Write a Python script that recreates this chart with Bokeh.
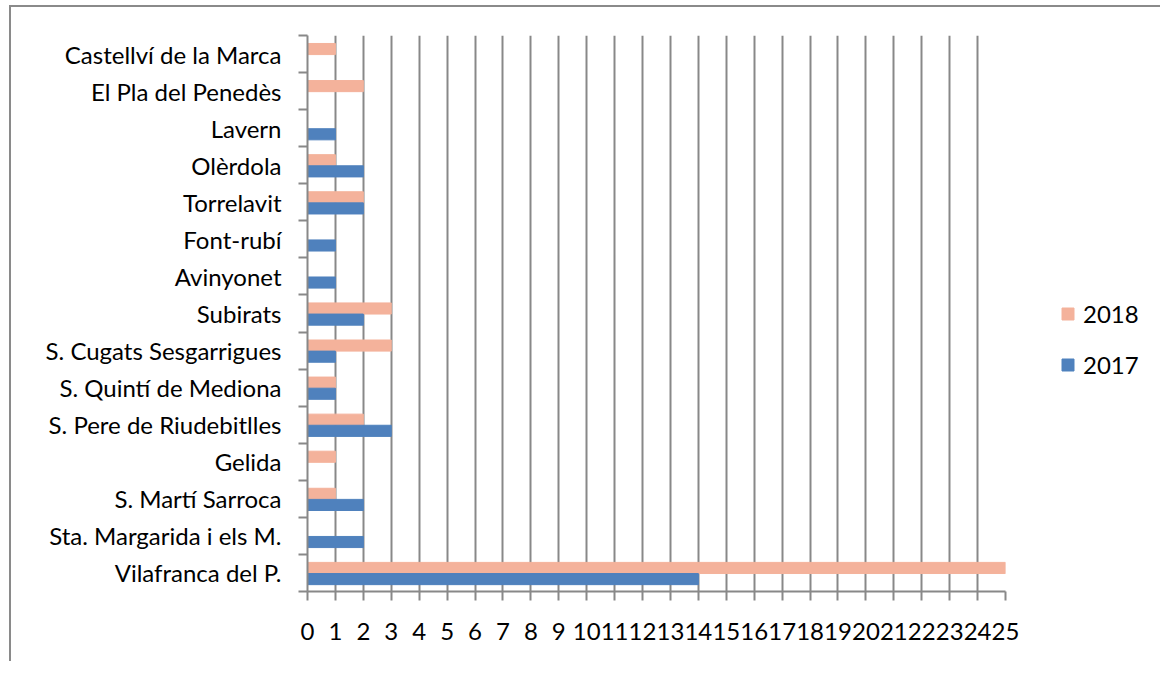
import numpy as np
from bokeh.plotting import figure
from bokeh.models import (ColumnDataSource, FixedTicker, Legend, LegendItem, Range1d)
from bokeh.embed import file_html
from bokeh.resources import INLINE

categories = ["Castellví de la Marca", "El Pla del Penedès", "Lavern", "Olèrdola",
              "Torrelavit", "Font-rubí", "Avinyonet", "Subirats",
              "S. Cugats Sesgarrigues", "S. Quintí de Mediona", "S. Pere de Riudebitlles",
              "Gelida", "S. Martí Sarroca", "Sta. Margarida i els M.", "Vilafranca del P."]
v2018 = [1, 2, 0, 1, 2, 0, 0, 3, 3, 1, 2, 1, 1, 0, 25]
v2017 = [0, 0, 1, 2, 2, 1, 1, 2, 1, 1, 3, 0, 2, 2, 14]
x_ticks = list(range(0, 26))

C18 = "#F4B29B"
C17 = "#4F81BD"
GRID = "#888888"
FONT = "Lato"
FS = "24px"

n = len(categories)
ypos = np.array([n - 1 - i + 0.5 for i in range(n)])
src = ColumnDataSource(dict(cat=categories, y=ypos, y18=ypos + 0.135, y17=ypos - 0.165,
                            v18=v2018, v17=v2017))

p = figure(output_backend="svg", toolbar_location=None,
           frame_width=698, frame_height=556,
           min_border_left=296, min_border_top=28, min_border_right=140, min_border_bottom=70,
           x_range=Range1d(0, 25), y_range=Range1d(0, n))
p.styles = {"border-top": "2px solid #8a8a8a", "border-left": "2px solid #8a8a8a",
            "margin-left": "9px", "margin-top": "5px"}
p.outline_line_color = None
p.background_fill_color = "white"

r18 = p.hbar(y="y18", right="v18", left=0, height=0.3, color=C18, source=src)
r17 = p.hbar(y="y17", right="v17", left=0, height=0.3, color=C17, source=src)

# x axis
p.xaxis.ticker = FixedTicker(ticks=x_ticks)
p.xaxis.axis_line_color = GRID
p.xaxis.axis_line_width = 2
p.xaxis.major_tick_line_color = GRID
p.xaxis.major_tick_line_width = 2
p.xaxis.major_tick_out = 9
p.xaxis.major_tick_in = 0
p.xaxis.minor_tick_line_color = None
p.xaxis.major_label_standoff = 22
p.xaxis.major_label_text_font = FONT
p.xaxis.major_label_text_font_size = FS
p.xaxis.major_label_text_color = "black"

p.xgrid.ticker = FixedTicker(ticks=x_ticks)
p.xgrid.grid_line_color = GRID
p.xgrid.grid_line_width = 2
p.ygrid.grid_line_color = None

# y axis: labels at category centres, minor ticks at boundaries
p.yaxis.ticker = FixedTicker(ticks=list(ypos), minor_ticks=list(range(0, n + 1)))
p.yaxis.major_label_overrides = {float(y): c for y, c in zip(ypos, categories)}
p.yaxis.axis_line_color = GRID
p.yaxis.axis_line_width = 2
p.yaxis.major_tick_line_color = None
p.yaxis.major_tick_out = 0
p.yaxis.major_tick_in = 0
p.yaxis.minor_tick_line_color = GRID
p.yaxis.minor_tick_line_width = 2
p.yaxis.minor_tick_out = 9
p.yaxis.minor_tick_in = 0
p.yaxis.major_label_standoff = 17
p.yaxis.major_label_text_font = FONT
p.yaxis.major_label_text_font_size = FS
p.yaxis.major_label_text_color = "black"

legend = Legend(items=[LegendItem(label="2018", renderers=[r18]),
                       LegendItem(label="2017", renderers=[r17])],
                location=(55, 212), orientation="vertical")
legend.glyph_width = 15
legend.glyph_height = 15
legend.label_text_font = FONT
legend.label_text_font_size = FS
legend.label_text_color = "black"
legend.label_standoff = 8
legend.spacing = 22
legend.padding = 0
legend.margin = 0
legend.border_line_color = None
legend.background_fill_alpha = 0
p.add_layout(legend, "right")

open("out.html", "w").write(file_html(p, INLINE))
